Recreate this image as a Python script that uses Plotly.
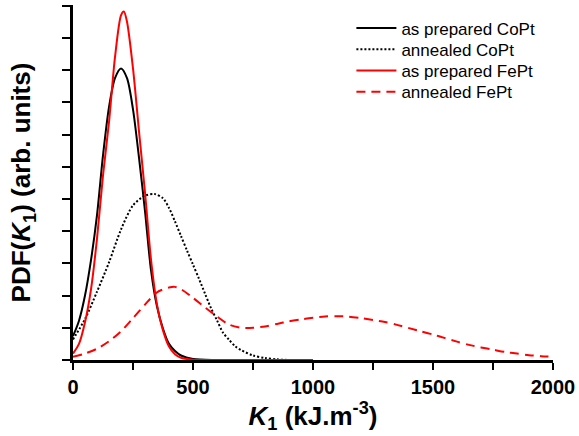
import plotly.graph_objects as go

# ---- data (K1 in kJ/m^3, PDF in arb. units) ----
k_cp_prep = [0, 25, 50, 75, 100, 125, 150, 175, 200, 225, 250, 275, 300, 325, 350, 375, 400, 425, 450, 500, 600, 800, 1000]
pdf_cp_prep = [0.74, 1.22, 2.0, 3.1, 4.5, 6.35, 7.85, 8.75, 9.05, 8.75, 7.78, 6.28, 4.62, 2.79, 1.66, 0.97, 0.5, 0.28, 0.14, 0.03, 0.0, 0.0, 0.0]

k_cp_ann = [0, 50, 100, 150, 200, 250, 300, 340, 375, 400, 425, 450, 475, 500, 525, 550, 575, 600, 625, 650, 675, 700, 750, 800, 850, 900, 1000]
pdf_cp_ann = [0.64, 1.27, 2.12, 3.03, 4.05, 4.8, 5.1, 5.15, 5.02, 4.72, 4.3, 3.85, 3.4, 2.96, 2.52, 2.06, 1.61, 1.23, 0.85, 0.63, 0.43, 0.31, 0.14, 0.06, 0.02, 0.0, 0.0]

k_fp_prep = [0, 25, 50, 75, 100, 125, 150, 175, 200, 212, 225, 250, 275, 300, 325, 350, 375, 400, 425, 450, 500, 600, 800, 1000]
pdf_fp_prep = [0.2, 0.5, 1.17, 2.19, 3.77, 5.73, 7.38, 9.4, 10.7, 10.82, 10.5, 9.05, 7.1, 5.2, 3.12, 1.72, 0.92, 0.42, 0.18, 0.07, 0.01, 0.0, 0.0, 0.0]

k_fp_ann = [0, 50, 100, 150, 200, 250, 300, 350, 400, 425, 450, 500, 550, 600, 650, 700, 725, 750, 800, 850, 900, 950, 1000, 1050, 1100, 1150, 1200, 1250, 1300, 1350, 1400, 1450, 1500, 1550, 1600, 1650, 1700, 1750, 1800, 1850, 1900, 1950, 2000]
pdf_fp_ann = [0.1, 0.2, 0.35, 0.58, 0.89, 1.3, 1.72, 2.1, 2.25, 2.27, 2.2, 1.93, 1.63, 1.35, 1.1, 1.0, 0.99, 1.0, 1.04, 1.12, 1.2, 1.26, 1.31, 1.35, 1.36, 1.345, 1.3, 1.24, 1.18, 1.09, 0.99, 0.89, 0.79, 0.68, 0.57, 0.47, 0.39, 0.32, 0.25, 0.2, 0.15, 0.12, 0.1]

series_names = ["as prepared CoPt", "annealed CoPt", "as prepared FePt", "annealed FePt"]

x_tickvals = [0, 500, 1000, 1500, 2000]
x_ticktext = ["0", "500", "1000", "1500", "2000"]

FONT = "Liberation Sans, Arial, sans-serif"

fig = go.Figure()
fig.add_trace(go.Scatter(x=k_cp_prep, y=pdf_cp_prep, mode="lines", name=series_names[0], legend="legend",
                         line=dict(color="black", width=2, shape="spline", smoothing=0.8)))
fig.add_trace(go.Scatter(x=k_cp_ann, y=pdf_cp_ann, mode="lines", name=series_names[1], legend="legend2",
                         line=dict(color="black", width=2, dash="2px,2px", shape="spline", smoothing=0.8)))
fig.add_trace(go.Scatter(x=k_fp_prep, y=pdf_fp_prep, mode="lines", name=series_names[2], legend="legend3",
                         line=dict(color="#ff0000", width=2, shape="spline", smoothing=0.8)))
fig.add_trace(go.Scatter(x=k_fp_ann, y=pdf_fp_ann, mode="lines", name=series_names[3], legend="legend4",
                         line=dict(color="#ff0000", width=2, dash="9px,6px", shape="spline", smoothing=0.8)))

# one legend box per entry so the row spacing can match the reference
row_px = [28.5, 49.7, 70.9, 92.1]   # row centres in pixels from the top
plot_top, plot_bottom = 5, 360


def legend_box(yc):
    return dict(x=0.58, y=(plot_bottom - yc) / (plot_bottom - plot_top), xanchor="left", yanchor="middle",
                font=dict(family=FONT, size=17, color="black"),
                bgcolor="rgba(0,0,0,0)", borderwidth=0, itemwidth=40)


fig.update_layout(
    width=579, height=436,
    margin=dict(l=73, r=26, t=plot_top, b=436 - plot_bottom),
    paper_bgcolor="white", plot_bgcolor="white",
    font=dict(family=FONT, color="black"),
    showlegend=True,
    legend=legend_box(row_px[0]),
    legend2=legend_box(row_px[1]),
    legend3=legend_box(row_px[2]),
    legend4=legend_box(row_px[3]),
    xaxis=dict(range=[0, 2000], showgrid=False, zeroline=False,
               showline=True, linecolor="black", linewidth=3,
               ticks="outside", ticklen=7, tickwidth=2, tickcolor="black",
               tickvals=x_tickvals, ticktext=x_ticktext,
               tickfont=dict(family=FONT, size=20, color="black", weight="bold"),
               minor=dict(ticks="outside", ticklen=7, tickwidth=2, tickcolor="black", dtick=250, showgrid=False),
               title=dict(text="<b><i>K</i><sub>1</sub> (kJ.m<sup>-3</sup>)</b>",
                          font=dict(family=FONT, size=26, color="black"), standoff=6),
               layer="below traces"),
    yaxis=dict(range=[0, 11.02], showgrid=False, zeroline=False,
               showline=True, linecolor="black", linewidth=3,
               ticks="outside", ticklen=8, tickwidth=2, tickcolor="black",
               dtick=1, tick0=0, showticklabels=False,
               title=dict(text="<b>PDF(<i>K</i><sub>1</sub>) (arb. units)</b>",
                          font=dict(family=FONT, size=26, color="black"), standoff=24)),
)

fig.write_html("out.html")
